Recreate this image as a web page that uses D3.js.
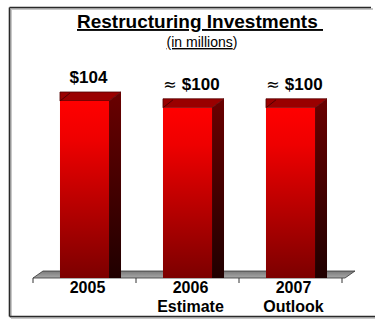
<!DOCTYPE html>
<html>
<head>
<meta charset="utf-8">
<script src="https://cdn.jsdelivr.net/npm/d3@7"></script>
<style>
  html, body { margin: 0; padding: 0; background: #fff; }
  svg { display: block; }
  text { font-family: "Liberation Sans", Arial, sans-serif; }
</style>
</head>
<body>
<svg id="chart" width="375" height="320"></svg>
<script>
// Restructuring investments, $ millions
const categories = ["2005", "2006", "2007"];
const subLabels = ["", "Estimate", "Outlook"];
const values = [104, 100, 100];
const valueLabels = ["$104", "$100", "$100"];
const approx = [false, true, true];

const svg = d3.select("#chart");

// frame with soft drop shadow
const frame = svg.append("g");
frame.append("path").attr("d", "M11,318 H375 M11,9 V318 M11,9 H373")
  .attr("fill", "none").attr("stroke", "#c8c8c8").attr("stroke-width", 2);
frame.append("path").attr("d", "M9.5,316.5 H375 M9.5,7.5 V316.5 M9.5,7.5 H371")
  .attr("fill", "none").attr("stroke", "#2a2a2a").attr("stroke-width", 1.6);

// title block
svg.append("text").attr("x", 200).attr("y", 28).attr("text-anchor", "middle")
  .attr("font-size", 19).attr("font-weight", "bold").attr("fill", "#000")
  .attr("text-decoration", "underline").attr("xml:space", "preserve")
  .text("Restructuring Investments ");
const sub = svg.append("text").attr("x", 202).attr("y", 47).attr("text-anchor", "middle")
  .attr("font-size", 14).attr("fill", "#000");
sub.append("tspan").attr("text-decoration", "underline").text("(in millions");
sub.append("tspan").text(")");

// scales
const floorY = 278;
const x = d3.scaleBand().domain(categories).range([33, 342])
  .paddingInner(0.524).paddingOuter(0.262);
const y = d3.scaleLinear().domain([0, 104]).range([floorY, 101]);
const depthX = 12, depthY = 9;

// gradients
const defs = svg.append("defs");
const gFront = defs.append("linearGradient").attr("id", "front")
  .attr("x1", 0).attr("y1", 0).attr("x2", 0).attr("y2", 1);
gFront.append("stop").attr("offset", "0%").attr("stop-color", "#ff0000");
gFront.append("stop").attr("offset", "22%").attr("stop-color", "#ee0000");
gFront.append("stop").attr("offset", "100%").attr("stop-color", "#7c0000");
const gSide = defs.append("linearGradient").attr("id", "side")
  .attr("x1", 0).attr("y1", 0).attr("x2", 0).attr("y2", 1);
gSide.append("stop").attr("offset", "0%").attr("stop-color", "#6a0000");
gSide.append("stop").attr("offset", "100%").attr("stop-color", "#200000");
const gFloor = defs.append("linearGradient").attr("id", "floor")
  .attr("x1", 0).attr("y1", 0).attr("x2", 0).attr("y2", 1);
gFloor.append("stop").attr("offset", "0%").attr("stop-color", "#7a7a7a");
gFloor.append("stop").attr("offset", "100%").attr("stop-color", "#a8a8a8");

// floor slab
const fx0 = x.range()[0], fx1 = x.range()[1];
svg.append("path")
  .attr("d", `M${fx0},${floorY} L${fx0 + 10},${floorY - 7} L${fx1 + 13},${floorY - 7} L${fx1 + 3},${floorY} Z`)
  .attr("fill", "url(#floor)").attr("stroke", "#333").attr("stroke-width", 0.8);

// ticks at category boundaries
const step = x.step();
const tickXs = categories.map(c => x(c) - step * x.paddingInner() / 2).concat([fx1]);
svg.selectAll(".tick").data(tickXs).join("line")
  .attr("x1", d => d).attr("x2", d => d)
  .attr("y1", floorY).attr("y2", floorY + 5)
  .attr("stroke", "#333").attr("stroke-width", 1);

// bars
const bw = x.bandwidth();
const bars = svg.selectAll(".bar").data(categories.map((c, i) => ({ c, v: values[i] })))
  .join("g");
// side face
bars.append("path")
  .attr("d", d => {
    const x1 = x(d.c) + bw, yt = y(d.v);
    return `M${x1},${yt} L${x1 + depthX},${yt - depthY} L${x1 + depthX},${floorY} L${x1},${floorY} Z`;
  })
  .attr("fill", "url(#side)");
// top face
bars.append("path")
  .attr("d", d => {
    const x0 = x(d.c), yt = y(d.v);
    return `M${x0},${yt} L${x0},${yt - depthY} L${x0 + bw + depthX},${yt - depthY} L${x0 + bw},${yt} Z`;
  })
  .attr("fill", "#9a0000").attr("stroke", "#500000").attr("stroke-width", 0.8);
bars.append("line")
  .attr("x1", d => x(d.c)).attr("y1", d => y(d.v))
  .attr("x2", d => x(d.c) + depthX - 2).attr("y2", d => y(d.v) - depthY + 1)
  .attr("stroke", "#500000").attr("stroke-width", 1);
// front face
bars.append("rect")
  .attr("x", d => x(d.c)).attr("y", d => y(d.v))
  .attr("width", bw).attr("height", d => floorY - y(d.v))
  .attr("fill", "url(#front)");

// value labels
categories.forEach((c, i) => {
  const cx = x(c) + bw / 2 + 4;
  const ty = y(values[i]) - depthY - 9;
  const t = svg.append("text").attr("x", cx).attr("y", ty).attr("text-anchor", "middle")
    .attr("font-size", 17).attr("font-weight", "bold").attr("fill", "#000")
    .attr("xml:space", "preserve");
  if (approx[i]) t.append("tspan").attr("font-weight", "normal")
    .attr("font-family", "DejaVu Sans").attr("font-size", 16).text("≈ ");
  t.append("tspan").text(valueLabels[i]);
});

// category labels
categories.forEach((c, i) => {
  const cx = x(c) + bw / 2 + 3;
  svg.append("text").attr("x", cx).attr("y", 293).attr("text-anchor", "middle")
    .attr("font-size", 16).attr("font-weight", "bold").attr("fill", "#000").text(c);
  if (subLabels[i]) {
    svg.append("text").attr("x", cx).attr("y", 312).attr("text-anchor", "middle")
      .attr("font-size", 16).attr("font-weight", "bold").attr("fill", "#000").text(subLabels[i]);
  }
});
</script>
</body>
</html>
